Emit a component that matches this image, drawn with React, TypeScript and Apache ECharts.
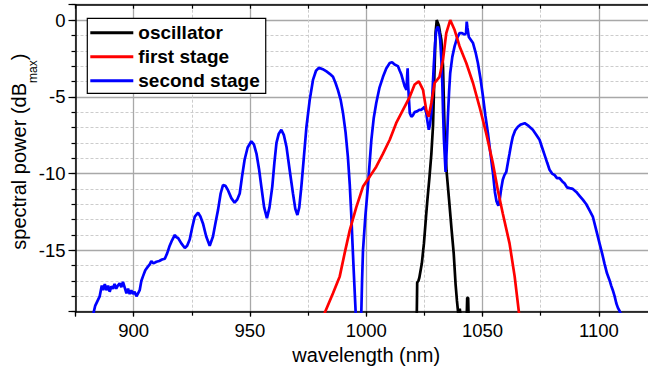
import React, { useEffect, useRef } from 'react';
import * as echarts from 'echarts';

const FONT = '"Liberation Sans", Arial, Helvetica, sans-serif';

const seriesNames = ['oscillator', 'first stage', 'second stage'];
const seriesColors = ['#000000', '#ff0000', '#0000ff'];
const xRange = [875, 1125];
const yRange = [-19, 1];

// oscillator spectrum
const oscWl = [1021.7, 1021.9, 1022.4, 1022.8, 1023.9, 1024.8, 1025.7, 1026.3, 1027.2, 1028.0, 1028.7, 1029.4, 1029.8, 1030.3, 1030.8, 1031.2, 1031.7, 1032.3, 1033.0, 1033.7, 1034.5, 1035.6, 1036.6, 1037.6, 1038.4, 1039.0, 1039.6, 1040.2, 1040.6, 1043.2, 1043.4, 1043.8, 1044.0];
const oscDb = [-19.5, -17.1, -17.0, -16.8, -15.85, -14.55, -12.8, -11.7, -10.2, -8.7, -6.9, -3.0, -0.85, 0, -0.2, -0.35, -0.8, -1.3, -3.0, -7.4, -9.8, -11.7, -13.5, -15.2, -17.2, -18.3, -19.2, -18.8, -19.3, -19.3, -18.1, -18.1, -19.3];

// first amplifier stage
const firstWl = [981.8, 985.7, 988.6, 990.7, 992.9, 995.7, 998.6, 1001.5, 1004.3, 1007.2, 1010.1, 1012.9, 1015.8, 1018.7, 1020.8, 1022.6, 1024.4, 1025.8, 1026.8, 1028.0, 1029.4, 1031.5, 1033.0, 1034.4, 1036.1, 1038.0, 1040.1, 1043.0, 1045.9, 1048.7, 1051.6, 1054.4, 1056.6, 1058.7, 1061.6, 1063.8, 1065.6, 1066.0];
const firstDb = [-19.2, -17.8, -16.7, -15.2, -13.7, -12.2, -10.85, -10.2, -9.55, -8.7, -7.8, -6.7, -5.85, -5.0, -4.2, -4.0, -4.55, -5.85, -6.3, -5.4, -4.1, -3.7, -2.6, -0.85, 0, -0.65, -1.7, -2.8, -4.1, -5.65, -7.4, -9.3, -11.1, -12.6, -14.55, -16.7, -19.0, -19.4];

// second amplifier stage
const secondWl = [882.4, 883.5, 885.4, 886.3, 886.9, 887.6, 888.3, 889.0, 889.7, 890.4, 891.1, 891.8, 892.5, 893.2, 894.0, 894.7, 895.4, 896.1, 896.9, 897.6, 898.3, 899.0, 899.7, 900.4, 901.2, 901.9, 902.6, 903.3, 904.0, 905.0, 906.2, 907.0, 907.6, 908.5, 909.8, 911.0, 912.2, 913.4, 914.4, 915.5, 916.5, 917.7, 918.4, 919.1, 920.5, 922.0, 923.0, 924.1, 925.2, 926.3, 927.7, 928.7, 929.8, 931.2, 932.7, 934.1, 935.2, 936.3, 937.4, 938.4, 939.5, 940.6, 942.0, 943.4, 944.5, 945.6, 946.6, 947.7, 949.0, 950.6, 951.7, 952.8, 953.9, 954.9, 956.1, 957.3, 958.4, 959.6, 960.5, 961.4, 962.4, 963.5, 964.6, 965.7, 967.1, 968.5, 969.5, 970.4, 971.2, 972.1, 973.2, 974.3, 975.7, 977.1, 978.4, 979.7, 981.3, 982.9, 984.3, 985.7, 986.8, 987.8, 989.0, 990.0, 991.1, 992.1, 992.9, 993.6, 994.1, 994.6, 995.4, 995.8, 997.2, 997.9, 998.2, 998.6, 999.6, 1000.7, 1002.2, 1003.2, 1004.3, 1005.7, 1007.2, 1008.6, 1010.1, 1011.1, 1012.2, 1013.6, 1014.4, 1015.1, 1016.5, 1017.3, 1017.6, 1017.8, 1018.0, 1018.2, 1018.7, 1019.4, 1020.1, 1020.8, 1021.8, 1022.8, 1023.7, 1025.1, 1025.8, 1026.4, 1026.9, 1027.4, 1028.0, 1028.5, 1029.0, 1029.6, 1030.1, 1030.8, 1031.3, 1031.8, 1032.3, 1032.7, 1033.0, 1033.4, 1034.1, 1034.6, 1035.1, 1035.6, 1036.1, 1037.0, 1038.0, 1039.0, 1040.1, 1041.2, 1042.3, 1042.9, 1043.2, 1043.5, 1044.1, 1045.0, 1045.9, 1047.0, 1048.0, 1049.1, 1050.2, 1051.2, 1052.3, 1053.4, 1054.5, 1055.3, 1056.0, 1056.8, 1057.3, 1058.0, 1058.7, 1059.4, 1060.2, 1061.0, 1061.6, 1062.3, 1063.0, 1064.0, 1065.2, 1066.5, 1068.1, 1069.8, 1071.6, 1073.0, 1074.5, 1075.6, 1076.7, 1077.8, 1078.8, 1079.9, 1081.0, 1082.0, 1083.1, 1084.2, 1085.3, 1086.3, 1087.4, 1088.8, 1090.3, 1091.7, 1093.1, 1094.6, 1096.0, 1097.4, 1098.9, 1100.3, 1101.4, 1102.4, 1103.5, 1104.6, 1105.3, 1106.0, 1106.8, 1107.5, 1108.2, 1108.9, 1109.6];
const secondDb = [-19.3, -18.6, -18.0, -17.3, -17.6, -17.2, -17.6, -17.3, -17.7, -17.35, -17.5, -17.2, -17.5, -17.3, -17.15, -17.4, -17.05, -17.4, -17.8, -17.5, -17.85, -17.6, -17.85, -17.7, -18.0, -17.8, -17.6, -17.0, -16.7, -16.3, -16.05, -15.9, -15.7, -15.85, -15.75, -15.7, -15.6, -15.55, -15.2, -14.7, -14.35, -14.0, -14.15, -14.2, -14.55, -14.85, -14.7, -14.3, -13.5, -12.8, -12.55, -12.8, -13.25, -14.1, -14.7, -14.1, -13.2, -12.35, -11.3, -10.75, -10.8, -11.1, -11.6, -11.9, -11.7, -11.3, -10.2, -9.1, -8.3, -7.9, -8.1, -8.7, -9.7, -10.85, -12.2, -12.9, -12.2, -10.85, -9.3, -8.0, -7.4, -7.15, -7.5, -8.25, -9.8, -11.3, -12.3, -12.7, -12.2, -10.85, -8.9, -6.95, -5.2, -3.9, -3.3, -3.1, -3.2, -3.35, -3.5, -3.7, -4.1, -4.55, -5.2, -6.05, -7.3, -8.9, -10.7, -12.8, -14.6, -16.3, -18.9, -20.5, -20.5, -18.9, -17.0, -15.0, -12.8, -10.85, -7.8, -6.4, -5.4, -4.4, -3.7, -3.15, -2.8, -2.75, -2.9, -3.0, -3.3, -3.55, -4.3, -4.55, -3.6, -3.15, -4.2, -4.75, -6.05, -6.3, -6.2, -6.0, -5.95, -5.85, -5.85, -5.65, -6.05, -6.7, -7.15, -6.8, -6.05, -4.6, -3.05, -1.5, -0.65, -0.42, -0.7, -1.3, -2.6, -4.1, -5.9, -7.8, -9.9, -8.4, -6.3, -4.7, -3.45, -2.4, -1.7, -1.2, -0.85, -0.85, -0.95, -0.85, -0.1, -0.5, -1.1, -1.3, -1.5, -2.1, -2.8, -3.8, -5.0, -6.2, -7.35, -8.7, -10.0, -11.2, -11.8, -12.1, -11.8, -11.0, -10.4, -10.1, -9.9, -9.2, -8.7, -8.1, -7.6, -7.2, -6.95, -6.8, -6.72, -6.9, -7.15, -7.45, -7.8, -8.3, -8.8, -9.3, -9.75, -10.0, -10.1, -10.3, -10.3, -10.5, -10.65, -10.9, -10.95, -11.0, -11.2, -11.45, -11.7, -12.0, -12.4, -12.8, -13.7, -14.55, -15.2, -15.85, -16.5, -16.95, -17.3, -17.6, -18.0, -18.45, -18.75, -18.95, -19.2];

const zip = (a: number[], b: number[]) => a.map((v, i) => [v, b[i]]);

const MAJOR = { color: '#a8a8a8', width: 1.3, type: 'solid' };
const MINOR = { color: '#cccccc', width: 1, type: [3, 2] };
const BLACK_LINE = { color: '#000', width: 1.5 };
const TICK = { color: '#000', width: 1.2 };

export default function App() {
  const ref = useRef<HTMLDivElement>(null);
  useEffect(() => {
    const chart = echarts.init(ref.current as HTMLDivElement, null, { renderer: 'svg' });
    const lineSeries = (idx: number, data: number[][]) => ({
      type: 'line',
      name: seriesNames[idx],
      data,
      xAxisIndex: 0,
      yAxisIndex: 0,
      showSymbol: false,
      symbol: 'none',
      clip: true,
      color: seriesColors[idx],
      lineStyle: { color: seriesColors[idx], width: 2.7 },
    });
    chart.setOption({
      animation: false,
      backgroundColor: '#fff',
      grid: {
        left: 75.5,
        top: 4.7,
        width: 581.5,
        height: 307,
        containLabel: false,
        outerBoundsMode: 'none',
      },
      legend: {
        data: seriesNames,
        left: 87.3,
        top: 18.3,
        orient: 'vertical',
        icon: 'rect',
        itemWidth: 43,
        itemHeight: 3,
        itemGap: 5,
        padding: [5, 6, 3, 3],
        backgroundColor: '#fff',
        borderColor: '#000',
        borderWidth: 1.2,
        selectedMode: false,
        textStyle: { fontSize: 19, fontWeight: 'bold', fontFamily: FONT, color: '#000', lineHeight: 19 },
      },
      xAxis: [
        {
          type: 'value', position: 'bottom', min: xRange[0], max: xRange[1], interval: 25,
          axisLine: { show: true, onZero: false, lineStyle: BLACK_LINE },
          axisTick: { show: true, inside: false, length: 4, lineStyle: TICK },
          axisLabel: { show: false },
          splitLine: { show: true, lineStyle: MINOR },
        },
        {
          type: 'value', position: 'bottom', min: xRange[0], max: xRange[1], splitNumber: 5,
          axisLine: { show: false, onZero: false },
          axisTick: { show: true, inside: false, length: 5, lineStyle: TICK },
          axisLabel: {
            show: true, margin: 9, fontSize: 18.5, fontFamily: FONT, color: '#000',
            formatter: (v: number) => (v % 50 === 0 ? String(v) : ''),
          },
          splitLine: { show: true, lineStyle: MAJOR },
          name: 'wavelength (nm)',
          nameLocation: 'middle',
          nameGap: 33,
          nameMoveOverlap: false,
          nameTextStyle: { fontSize: 20, fontFamily: FONT, color: '#000' },
        },
        {
          type: 'value', position: 'top', min: xRange[0], max: xRange[1], interval: 25,
          axisLine: { show: true, onZero: false, lineStyle: BLACK_LINE },
          axisTick: { show: true, inside: true, length: 4, lineStyle: TICK },
          axisLabel: { show: false },
          splitLine: { show: false },
        },
      ],
      yAxis: [
        {
          type: 'value', position: 'left', min: yRange[0], max: yRange[1], interval: 1,
          axisLine: { show: true, onZero: false, lineStyle: BLACK_LINE },
          axisTick: { show: true, inside: false, length: 4, lineStyle: TICK },
          axisLabel: { show: false },
          splitLine: { show: true, lineStyle: MINOR },
        },
        {
          type: 'value', position: 'left', min: yRange[0], max: yRange[1], splitNumber: 4,
          axisLine: { show: false, onZero: false },
          axisTick: { show: true, inside: false, length: 7, lineStyle: TICK },
          axisLabel: {
            show: true, margin: 10, fontSize: 18.5, fontFamily: FONT, color: '#000',
            formatter: (v: number) => (v % 5 === 0 ? String(v) : ''),
          },
          splitLine: { show: true, lineStyle: MAJOR },
          name: '{a|spectral power (dB}{b|max}{a|)}',
          nameLocation: 'middle',
          nameGap: 37,
          nameMoveOverlap: false,
          nameTextStyle: {
            fontSize: 20, fontFamily: FONT, color: '#000',
            padding: [0, 0, 0, 13],
            rich: {
              a: { fontSize: 20, fontFamily: FONT, color: '#000', lineHeight: 30, verticalAlign: 'top' },
              b: { fontSize: 12, fontFamily: FONT, color: '#000', lineHeight: 12, verticalAlign: 'bottom' },
            },
          },
        },
      ],
      series: [
        lineSeries(0, zip(oscWl, oscDb)),
        lineSeries(2, zip(secondWl, secondDb)),
        lineSeries(1, zip(firstWl, firstDb)),
      ],
    });
    return () => chart.dispose();
  }, []);
  return (
    <div
      ref={ref}
      style={{ position: 'fixed', left: 0, top: 0, width: 648, height: 367, overflow: 'hidden', background: '#fff' }}
    />
  );
}
